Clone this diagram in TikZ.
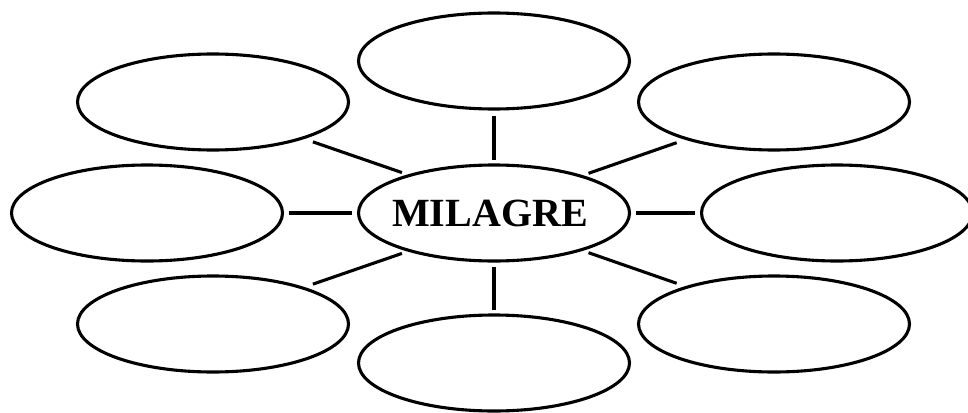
\documentclass[tikz,border=0pt]{standalone}
\usepackage{fontspec}
\setmainfont{Liberation Serif}
\usetikzlibrary{shapes.geometric}
\begin{document}
\begin{tikzpicture}[x=1pt,y=-1pt,
  bubble/.style={draw=black, line width=3.1pt, ellipse, minimum width=271pt, minimum height=96pt, inner sep=0pt, fill=white},
  link/.style={draw=black, line width=3.1pt}]
\useasboundingbox (0,0) rectangle (968,412);
\node[bubble] (c)  at (494,213) {};
\node[font=\bfseries\fontsize{40}{40}\selectfont] (t) at (490,213) {MILAGRE};
\node[bubble] (n)  at (494,61)  {};
\node[bubble] (s)  at (494,363) {};
\node[bubble] (nw) at (213,102) {};
\node[bubble] (w)  at (147,213) {};
\node[bubble] (sw) at (213,324) {};
\node[bubble] (ne) at (774,102) {};
\node[bubble] (e)  at (837,213) {};
\node[bubble] (se) at (774,324) {};
\draw[link, shorten <=5pt, shorten >=3pt] (n.south) -- (c.north);
\draw[link, shorten <=4pt, shorten >=3pt] (c.south) -- (s.north);
\draw[link, shorten <=5pt, shorten >=5pt] (w.east) -- (c.west);
\draw[link, shorten <=5pt, shorten >=5pt] (c.east) -- (e.west);
\draw[link, shorten <=9pt, shorten >=6pt] (nw.-22.5) -- (c.156.4);
\draw[link, shorten <=9pt, shorten >=6pt] (sw.22.5) -- (c.-156.4);
\draw[link, shorten <=9pt, shorten >=6pt] (ne.-157.5) -- (c.23.6);
\draw[link, shorten <=9pt, shorten >=6pt] (se.157.5) -- (c.-23.6);
\end{tikzpicture}
\end{document}
